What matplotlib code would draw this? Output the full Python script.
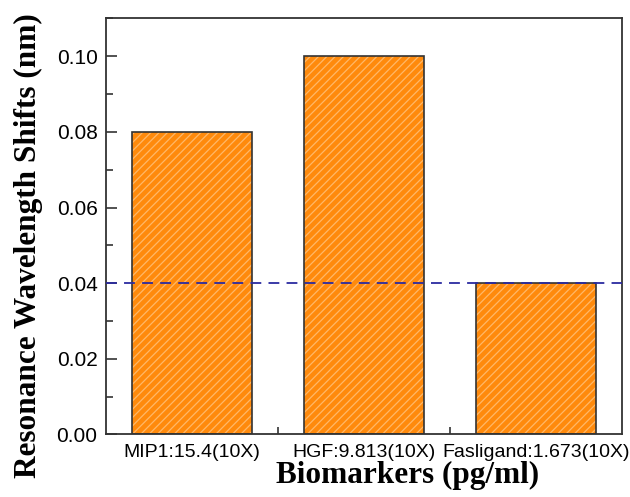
import matplotlib
matplotlib.use("Agg")
import matplotlib.pyplot as plt
from matplotlib.ticker import MultipleLocator, FixedLocator

categories = ["MIP1:15.4(10X)", "HGF:9.813(10X)", "Fasligand:1.673(10X)"]
values = [0.08, 0.10, 0.04]
threshold = 0.04

fig = plt.figure(figsize=(6.3, 4.97), dpi=100)
ax = fig.add_axes([0.168, 0.1258, 0.819, 0.837])

x = [1, 2, 3]
plt.rcParams['hatch.linewidth'] = 0.9
ax.bar(x, values, width=0.7, color="#FF8A0C", edgecolor="#FFB868",
       linewidth=0, hatch="////", zorder=2)
ax.bar(x, values, width=0.7, fill=False, edgecolor="#333333",
       linewidth=1.2, zorder=3)
ax.axhline(threshold, color="#2B2BA0", linestyle=(0, (6, 4)), linewidth=1.3, zorder=4)

ax.set_xlim(0.5, 3.5)
ax.set_ylim(0, 0.11)
ax.set_xticks(x)
ax.set_xticklabels(categories, fontfamily="Liberation Sans", fontsize=14)
ax.xaxis.set_minor_locator(FixedLocator([1.5, 2.5]))
ax.yaxis.set_minor_locator(MultipleLocator(0.01))
ax.set_yticks([0.0, 0.02, 0.04, 0.06, 0.08, 0.10])
ax.set_yticklabels(["0.00", "0.02", "0.04", "0.06", "0.08", "0.10"],
                   fontfamily="Liberation Sans", fontsize=15)
ax.tick_params(which="major", direction="in", length=8, width=1.2, color="#333333", pad=6)
ax.tick_params(which="minor", direction="in", length=5, width=1.2, color="#333333")
ax.tick_params(axis="x", which="major", pad=7)
for s in ax.spines.values():
    s.set_linewidth(1.3)
    s.set_color("#333333")

ax.set_xlabel("Biomarkers (pg/ml)", fontfamily="Liberation Serif",
              fontweight="bold", fontsize=22.5, labelpad=0)
ax.set_ylabel("Resonance Wavelength Shifts (nm)", fontfamily="Liberation Serif",
              fontweight="bold", fontsize=22.5, labelpad=10)
ax.xaxis.label.set_x(0.585)
ax.yaxis.label.set_y(0.455)

fig.savefig("out.png", dpi=100)
